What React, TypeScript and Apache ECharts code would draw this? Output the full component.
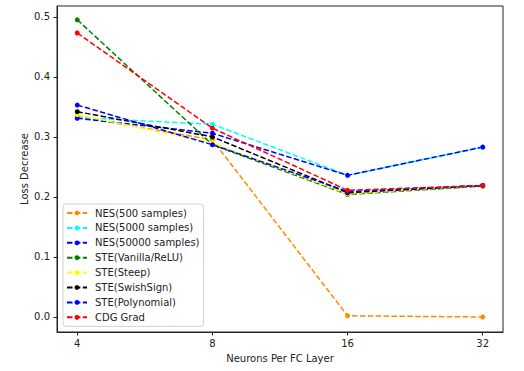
import React, { useEffect, useRef } from "react";
import * as echarts from "echarts";

const xLabels = ["4", "8", "16", "32"];
const yTicks = [0, 0.1, 0.2, 0.3, 0.4, 0.5];

const seriesNames = [
  "NES(500 samples)",
  "NES(5000 samples)",
  "NES(50000 samples)",
  "STE(Vanilla/ReLU)",
  "STE(Steep)",
  "STE(SwishSign)",
  "STE(Polynomial)",
  "CDG Grad",
];
const seriesColors = [
  "#ff8c00",
  "#00ffff",
  "#0000ff",
  "#008000",
  "#ffff00",
  "#000000",
  "#0000ff",
  "#ff0000",
];

const nes500 = [0.334, 0.295, 0.002, 0.0];
const nes5000 = [0.332, 0.321, 0.236, 0.283];
const nes50000 = [0.331, 0.306, 0.236, 0.283];
const steVanilla = [0.495, 0.287, 0.204, 0.218];
const steSteep = [0.337, 0.29, 0.205, 0.219];
const steSwish = [0.342, 0.3, 0.207, 0.219];
const stePoly = [0.353, 0.287, 0.209, 0.219];
const cdgGrad = [0.473, 0.3145, 0.211, 0.219];

const seriesValues = [nes500, nes5000, nes50000, steVanilla, steSteep, steSwish, stePoly, cdgGrad];

const FONT = "DejaVu Sans";

export default function App() {
  const ref = useRef<HTMLDivElement>(null);
  useEffect(() => {
    if (!ref.current) return;
    const chart = echarts.init(ref.current, null, { renderer: "svg" });
    chart.setOption({
      animation: false,
      backgroundColor: "#ffffff",
      textStyle: { fontFamily: FONT },
      grid: {
        left: 57,
        right: 21,
        top: 6,
        bottom: 39,
        show: true,
        borderColor: "#222",
        borderWidth: 1,
        backgroundColor: "transparent",
      },
      legend: {
        orient: "vertical",
        left: 63,
        top: 204,
        itemWidth: 20,
        itemHeight: 6,
        itemGap: 4.9,
        padding: [4, 4, 4, 3],
        backgroundColor: "rgba(255,255,255,0.8)",
        borderColor: "#d0d0d0",
        borderWidth: 1,
        borderRadius: 3,
        textStyle: { fontFamily: FONT, fontSize: 10, color: "#222", padding: [0, 0, 0, 3] },
        data: seriesNames,
      },
      xAxis: {
        type: "value",
        min: -0.15,
        max: 3.15,
        name: "Neurons Per FC Layer",
        nameLocation: "middle",
        nameGap: 21,
        nameMoveOverlap: false,
        nameTextStyle: { fontFamily: FONT, fontSize: 10, color: "#222" },
        axisLine: { show: true, onZero: false, lineStyle: { color: "#222", width: 1 } },
        axisTick: { show: true, length: 3.5, customValues: [0, 1, 2, 3], lineStyle: { color: "#222" } },
        axisLabel: {
          customValues: [0, 1, 2, 3],
          formatter: (v: number) => xLabels[Math.round(v)] ?? "",
          fontFamily: FONT,
          fontSize: 10,
          color: "#222",
          margin: 6,
        },
        splitLine: { show: false },
      },
      yAxis: {
        type: "value",
        min: -0.025,
        max: 0.518,
        name: "Loss Decrease",
        nameLocation: "middle",
        nameGap: 28,
        nameMoveOverlap: false,
        nameTextStyle: { fontFamily: FONT, fontSize: 10, color: "#222" },
        axisLine: { show: true, onZero: false, lineStyle: { color: "#222", width: 1 } },
        axisTick: { show: true, length: 3.5, customValues: yTicks, lineStyle: { color: "#222" } },
        axisLabel: {
          customValues: yTicks,
          formatter: (v: number) => v.toFixed(1),
          fontFamily: FONT,
          fontSize: 10,
          color: "#222",
          margin: 7,
        },
        splitLine: { show: false },
      },
      series: seriesNames.map((name, i) => ({
        name,
        type: "line",
        data: seriesValues[i].map((v, j) => [j, v]),
        symbol: "circle",
        symbolSize: 5,
        showSymbol: true,
        color: seriesColors[i],
        lineStyle: { color: seriesColors[i], width: 1.5, type: [5.5, 2.4] },
        itemStyle: { color: seriesColors[i] },
        emphasis: { disabled: true },
      })),
    });
    return () => chart.dispose();
  }, []);
  return (
    <div
      ref={ref}
      style={{ position: "fixed", left: 0, top: 0, width: 524, height: 371 }}
    />
  );
}
